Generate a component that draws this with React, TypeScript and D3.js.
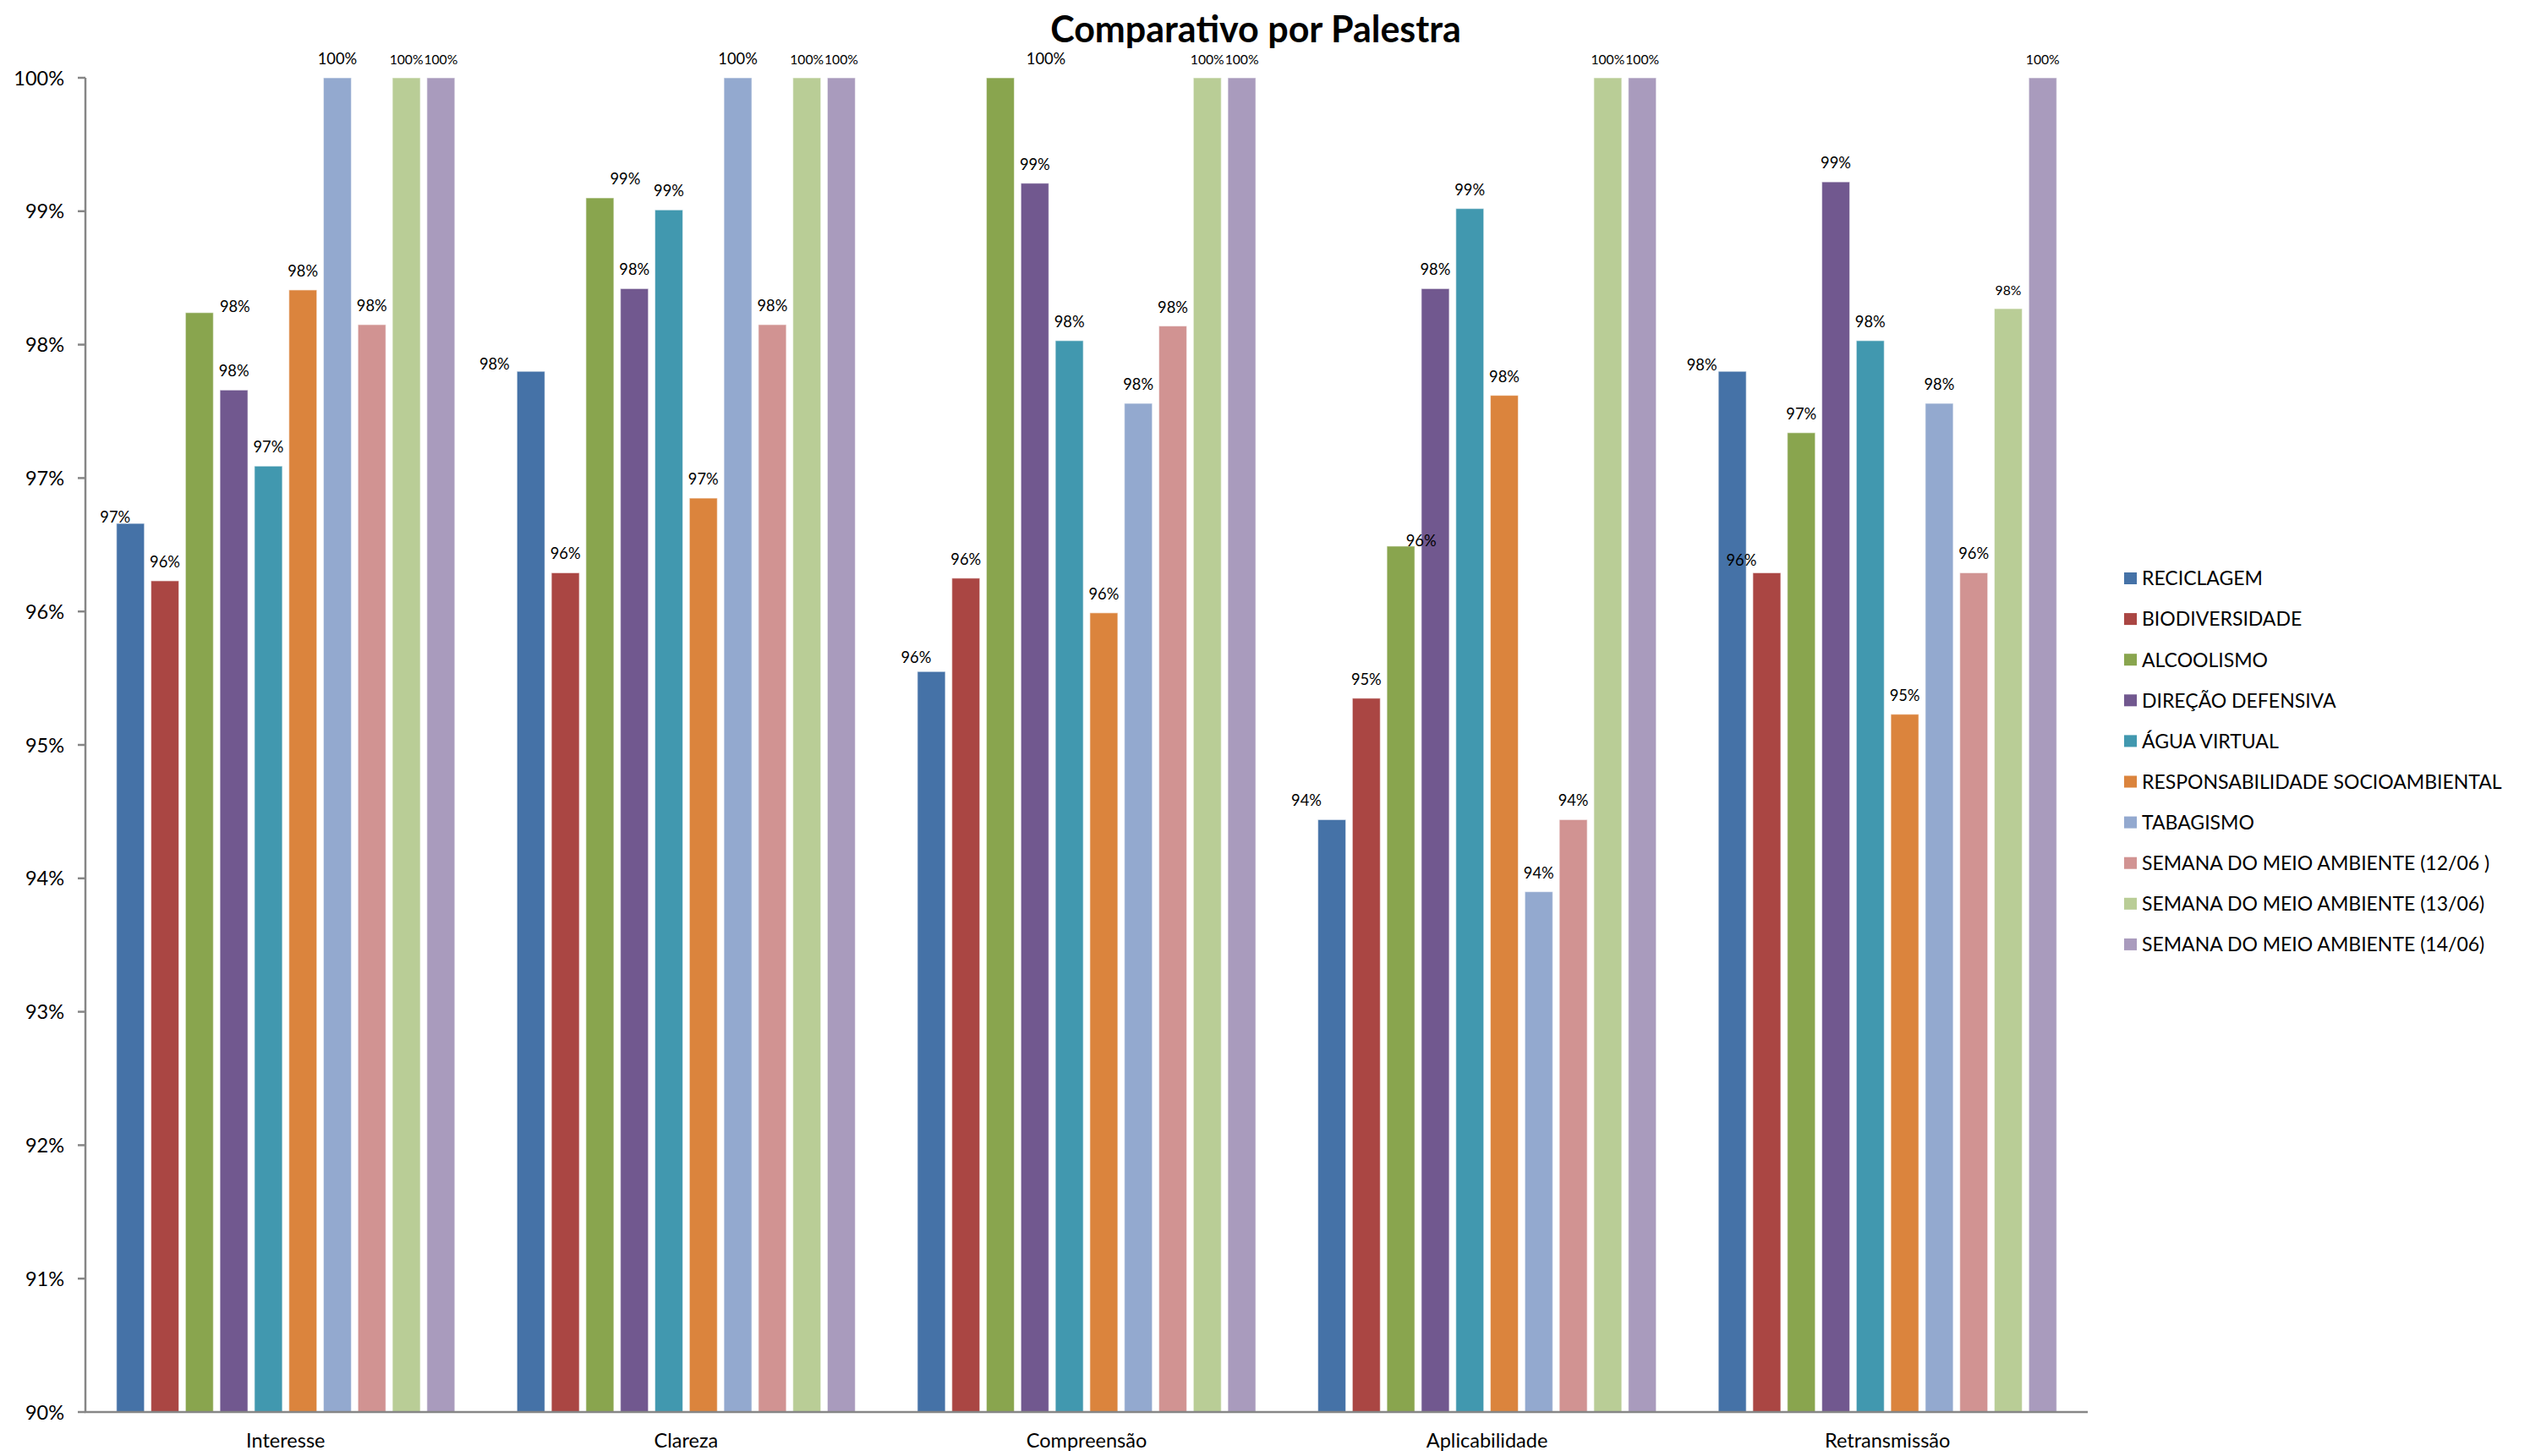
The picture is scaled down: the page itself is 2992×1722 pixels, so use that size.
import React from "react";
import * as d3 from "d3";

const categories = ["Interesse", "Clareza", "Compreensão", "Aplicabilidade", "Retransmissão"];

const seriesNames = [
  "RECICLAGEM",
  "BIODIVERSIDADE",
  "ALCOOLISMO",
  "DIREÇÃO DEFENSIVA",
  "ÁGUA VIRTUAL",
  "RESPONSABILIDADE SOCIOAMBIENTAL",
  "TABAGISMO",
  "SEMANA DO MEIO AMBIENTE (12/06 )",
  "SEMANA DO MEIO AMBIENTE (13/06)",
  "SEMANA DO MEIO AMBIENTE (14/06)",
];

const reciclagem = [96.66, 97.8, 95.55, 94.44, 97.8];
const biodiversidade = [96.23, 96.29, 96.25, 95.35, 96.29];
const alcoolismo = [98.24, 99.1, 100, 96.49, 97.34];
const direcaoDefensiva = [97.66, 98.42, 99.21, 98.42, 99.22];
const aguaVirtual = [97.09, 99.01, 98.03, 99.02, 98.03];
const responsabilidade = [98.41, 96.85, 95.99, 97.62, 95.23];
const tabagismo = [100, 100, 97.56, 93.9, 97.56];
const semana1206 = [98.15, 98.15, 98.14, 94.44, 96.29];
const semana1306 = [100, 100, 100, 100, 98.27];
const semana1406 = [100, 100, 100, 100, 100];

const seriesValues = [
  reciclagem,
  biodiversidade,
  alcoolismo,
  direcaoDefensiva,
  aguaVirtual,
  responsabilidade,
  tabagismo,
  semana1206,
  semana1306,
  semana1406,
];

const yTicks = [90, 91, 92, 93, 94, 95, 96, 97, 98, 99, 100];

const colors = [
  "#4572A7",
  "#AA4643",
  "#89A54E",
  "#71588F",
  "#4198AF",
  "#DB843D",
  "#93A9CF",
  "#D19392",
  "#B9CD96",
  "#A99BBD",
];

// manual label nudges (as in the original chart), keyed "category|seriesIndex"
const labelNudge: Record<string, [number, number]> = {
  "0|0": [-18, 15],
  "0|2": [42, 15],
  "1|0": [-43, 14],
  "1|2": [30, 0],
  "2|0": [-18, 6],
  "2|2": [54, 0],
  "3|0": [-30, 0],
  "3|2": [24, 16],
  "4|0": [-36, 15],
  "4|1": [-30, 8],
};

const W = 2992;
const H = 1722;
const FONT = "Lato, 'Open Sans', sans-serif";

export default function App() {
  const plotLeft = 101;
  const plotRight = 2469;
  const plotTop = 92;
  const plotBottom = 1670;

  const x0 = d3.scaleBand<string>().domain(categories).range([plotLeft, plotRight]).paddingInner(0).paddingOuter(0);
  const x1 = d3
    .scaleBand<string>()
    .domain(seriesNames)
    .range([0, x0.bandwidth()])
    .paddingInner(0.19)
    .paddingOuter(0.9);
  const y = d3.scaleLinear().domain([90, 100]).range([plotBottom, plotTop]);

  const axisColor = "#868686";

  return (
    <svg
      width={W}
      height={H}
      style={{ position: "absolute", left: 0, top: 0, background: "#fff" }}
      fontFamily={FONT}
    >
      <rect x={0} y={0} width={W} height={H} fill="#fff" />
      <text x={1485} y={50} textAnchor="middle" fontSize={43} fontWeight={700} fill="#000">
        Comparativo por Palestra
      </text>

      {/* bars */}
      {categories.map((cat, ci) => (
        <g key={cat} transform={`translate(${x0(cat)},0)`}>
          {seriesNames.map((s, si) => {
            const v = seriesValues[si][ci];
            const bx = x1(s)!;
            const by = y(v);
            return (
              <rect
                key={s}
                x={bx}
                y={by}
                width={x1.bandwidth()}
                height={plotBottom - by}
                fill={colors[si]}
                stroke="#ffffff"
                strokeOpacity={0.55}
                strokeWidth={1.2}
              />
            );
          })}
        </g>
      ))}

      {/* axes */}
      <line x1={plotLeft} x2={plotLeft} y1={plotTop} y2={plotBottom} stroke={axisColor} strokeWidth={2.5} />
      <line x1={plotLeft - 1} x2={plotRight} y1={plotBottom} y2={plotBottom} stroke={axisColor} strokeWidth={2.5} />
      {yTicks.map((t) => (
        <g key={t}>
          <line x1={plotLeft - 9} x2={plotLeft} y1={y(t)} y2={y(t)} stroke={axisColor} strokeWidth={2.5} />
          <text x={76} y={y(t) + 8.5} textAnchor="end" fontSize={23.5} fill="#000">
            {`${t}%`}
          </text>
        </g>
      ))}
      {categories.map((cat) => (
        <text
          key={cat}
          x={x0(cat)! + x0.bandwidth() / 2}
          y={plotBottom + 42}
          textAnchor="middle"
          fontSize={23.5}
          fill="#000"
        >
          {cat}
        </text>
      ))}

      {/* data labels */}
      {categories.map((cat, ci) =>
        seriesNames.map((s, si) => {
          const v = seriesValues[si][ci];
          const nudge = labelNudge[`${ci}|${si}`] || [0, 0];
          const cx = x0(cat)! + x1(s)! + x1.bandwidth() / 2 + nudge[0];
          const ly = y(v) - 16 + nudge[1];
          const small = si >= 8;
          return (
            <text
              key={`${cat}-${s}`}
              x={cx}
              y={ly}
              textAnchor="middle"
              fontSize={small ? 15.7 : 18.3}
              fill="#000"
            >
              {`${Math.round(v)}%`}
            </text>
          );
        })
      )}

      {/* legend */}
      {seriesNames.map((s, si) => {
        const cy = 684 + si * 48.1;
        return (
          <g key={s}>
            <rect x={2512} y={cy - 7} width={15} height={14} fill={colors[si]} />
            <text x={2533} y={cy + 8.3} fontSize={23} fill="#000">
              {s}
            </text>
          </g>
        );
      })}
    </svg>
  );
}
